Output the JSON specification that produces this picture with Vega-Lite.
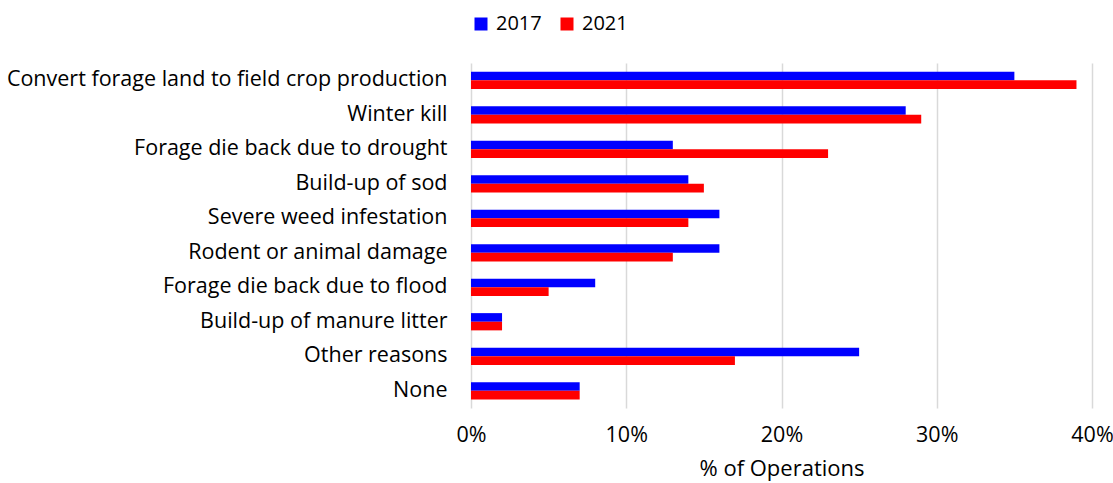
{
  "$schema": "https://vega.github.io/schema/vega-lite/v6.json",
  "autosize": "none",
  "width": 621,
  "height": 345,
  "padding": {"left": 471, "top": 63, "right": 21, "bottom": 75},
  "background": "white",
  "config": {
    "font": "Open Sans",
    "view": {"stroke": null}
  },
  "data": {
    "values": [
      {"reason": "Convert forage land to field crop production", "year": "2017", "pct": 35},
      {"reason": "Convert forage land to field crop production", "year": "2021", "pct": 39},
      {"reason": "Winter kill", "year": "2017", "pct": 28},
      {"reason": "Winter kill", "year": "2021", "pct": 29},
      {"reason": "Forage die back due to drought", "year": "2017", "pct": 13},
      {"reason": "Forage die back due to drought", "year": "2021", "pct": 23},
      {"reason": "Build-up of sod", "year": "2017", "pct": 14},
      {"reason": "Build-up of sod", "year": "2021", "pct": 15},
      {"reason": "Severe weed infestation", "year": "2017", "pct": 16},
      {"reason": "Severe weed infestation", "year": "2021", "pct": 14},
      {"reason": "Rodent or animal damage", "year": "2017", "pct": 16},
      {"reason": "Rodent or animal damage", "year": "2021", "pct": 13},
      {"reason": "Forage die back due to flood", "year": "2017", "pct": 8},
      {"reason": "Forage die back due to flood", "year": "2021", "pct": 5},
      {"reason": "Build-up of manure litter", "year": "2017", "pct": 2},
      {"reason": "Build-up of manure litter", "year": "2021", "pct": 2},
      {"reason": "Other reasons", "year": "2017", "pct": 25},
      {"reason": "Other reasons", "year": "2021", "pct": 17},
      {"reason": "None", "year": "2017", "pct": 7},
      {"reason": "None", "year": "2021", "pct": 7}
    ]
  },
  "mark": {"type": "bar"},
  "encoding": {
    "y": {
      "field": "reason",
      "type": "nominal",
      "sort": null,
      "scale": {"paddingInner": 0.5, "paddingOuter": 0.25},
      "axis": {
        "title": null,
        "domain": false,
        "ticks": false,
        "labelPadding": 24,
        "labelFontSize": 21.5,
        "labelColor": "#000000",
        "labelFont": "Open Sans",
        "labelLimit": 600
      }
    },
    "yOffset": {"field": "year", "type": "nominal", "sort": ["2017", "2021"]},
    "x": {
      "field": "pct",
      "type": "quantitative",
      "scale": {"domain": [0, 40]},
      "axis": {
        "values": [0, 10, 20, 30, 40],
        "labelExpr": "datum.value + '%'",
        "labelFlush": false,
        "domain": false,
        "ticks": false,
        "grid": true,
        "gridColor": "#d9d9d9",
        "gridWidth": 1.5,
        "labelPadding": 16,
        "labelFontSize": 21.5,
        "labelColor": "#000000",
        "labelFont": "Open Sans",
        "title": "% of Operations",
        "titleFontSize": 22,
        "titleFontWeight": "normal",
        "titleFont": "Open Sans",
        "titleColor": "#000000",
        "titlePadding": 13
      }
    },
    "color": {
      "field": "year",
      "type": "nominal",
      "scale": {"domain": ["2017", "2021"], "range": ["#0000FF", "#FF0000"]},
      "legend": {
        "title": null,
        "orient": "none",
        "direction": "horizontal",
        "legendX": 0,
        "legendY": -49,
        "symbolType": "square",
        "symbolSize": 169,
        "symbolOpacity": 1,
        "labelFontSize": 20,
        "labelFont": "Open Sans",
        "labelColor": "#000000",
        "columnPadding": 15,
        "labelOffset": 5
      }
    }
  }
}
